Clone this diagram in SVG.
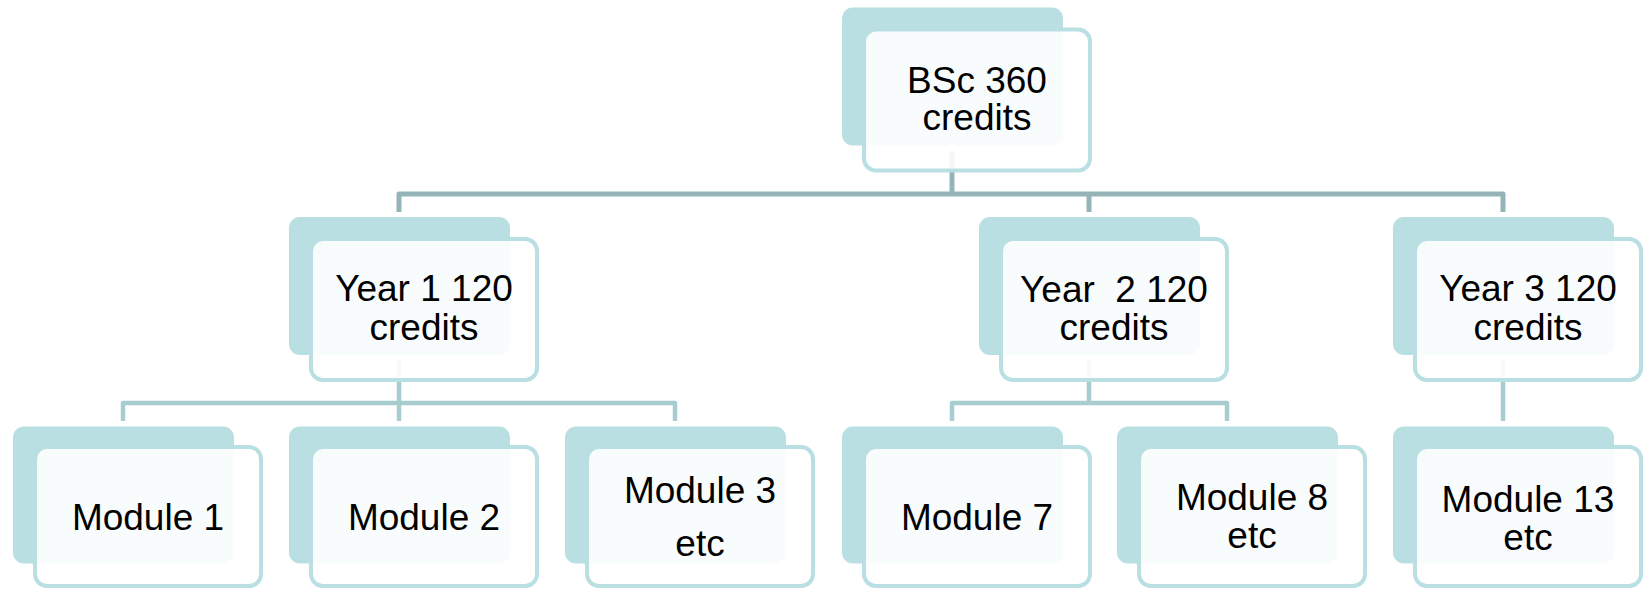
<svg xmlns="http://www.w3.org/2000/svg" width="1648" height="589" viewBox="0 0 1648 589">
<style>
.back{fill:#B9DFE3}
.front{fill:#FFFFFF;fill-opacity:0.9;stroke:#B9DFE3;stroke-width:4}
.t{font-family:"Liberation Sans",Arial,sans-serif;font-size:37px;fill:#000;text-anchor:middle}
.c0{fill:none;stroke:#95B4B7;stroke-width:5;stroke-linejoin:round}
.c1{fill:none;stroke:#A8CDD0;stroke-width:4.5;stroke-linejoin:round}
</style>
<rect width="1648" height="589" fill="#FFFFFF"/>
<g id="connectors">
<path class="c0" d="M952 151 V194 M399 212 V194 H1503 V212 M1089 194 V212"/>
<path class="c1" d="M399 360 V403 M123 421 V403 H675 V421 M399 403 V421"/>
<path class="c1" d="M1089 360 V403 M952 421 V403 H1227 V421"/>
<path class="c1" d="M1503 360 V421"/>
</g>
<g id="bsc">
<rect class="back" x="842" y="7.5" width="221" height="138" rx="11"/>
<rect class="front" x="864" y="29.5" width="226" height="141" rx="12"/>
<text class="t" x="977" y="93">BSc 360</text>
<text class="t" x="977" y="130">credits</text>
</g>
<g id="year1">
<rect class="back" x="289" y="217" width="221" height="138" rx="11"/>
<rect class="front" x="311" y="239" width="226" height="141" rx="12"/>
<text class="t" x="424" y="301">Year 1 120</text>
<text class="t" x="424" y="339.5">credits</text>
</g>
<g id="year2">
<rect class="back" x="979" y="217" width="221" height="138" rx="11"/>
<rect class="front" x="1001" y="239" width="226" height="141" rx="12"/>
<text class="t" x="1114" y="301.5" xml:space="preserve">Year  2 120</text>
<text class="t" x="1114" y="339.5">credits</text>
</g>
<g id="year3">
<rect class="back" x="1393" y="217" width="221" height="138" rx="11"/>
<rect class="front" x="1415" y="239" width="226" height="141" rx="12"/>
<text class="t" x="1528" y="301">Year 3 120</text>
<text class="t" x="1528" y="340">credits</text>
</g>
<g id="module1">
<rect class="back" x="13" y="426.5" width="221" height="137" rx="11"/>
<rect class="front" x="35" y="447" width="226" height="139" rx="12"/>
<text class="t" x="148" y="530">Module 1</text>
</g>
<g id="module2">
<rect class="back" x="289" y="426.5" width="221" height="137" rx="11"/>
<rect class="front" x="311" y="447" width="226" height="139" rx="12"/>
<text class="t" x="424" y="530">Module 2</text>
</g>
<g id="module3">
<rect class="back" x="565" y="426.5" width="221" height="137" rx="11"/>
<rect class="front" x="587" y="447" width="226" height="139" rx="12"/>
<text class="t" x="700" y="503">Module 3</text>
<text class="t" x="700" y="556">etc</text>
</g>
<g id="module7">
<rect class="back" x="842" y="426.5" width="221" height="137" rx="11"/>
<rect class="front" x="864" y="447" width="226" height="139" rx="12"/>
<text class="t" x="977" y="530">Module 7</text>
</g>
<g id="module8">
<rect class="back" x="1117" y="426.5" width="221" height="137" rx="11"/>
<rect class="front" x="1139" y="447" width="226" height="139" rx="12"/>
<text class="t" x="1252" y="510">Module 8</text>
<text class="t" x="1252" y="548">etc</text>
</g>
<g id="module13">
<rect class="back" x="1393" y="426.5" width="221" height="137" rx="11"/>
<rect class="front" x="1415" y="447" width="226" height="139" rx="12"/>
<text class="t" x="1528" y="511.5">Module 13</text>
<text class="t" x="1528" y="550">etc</text>
</g>
</svg>
